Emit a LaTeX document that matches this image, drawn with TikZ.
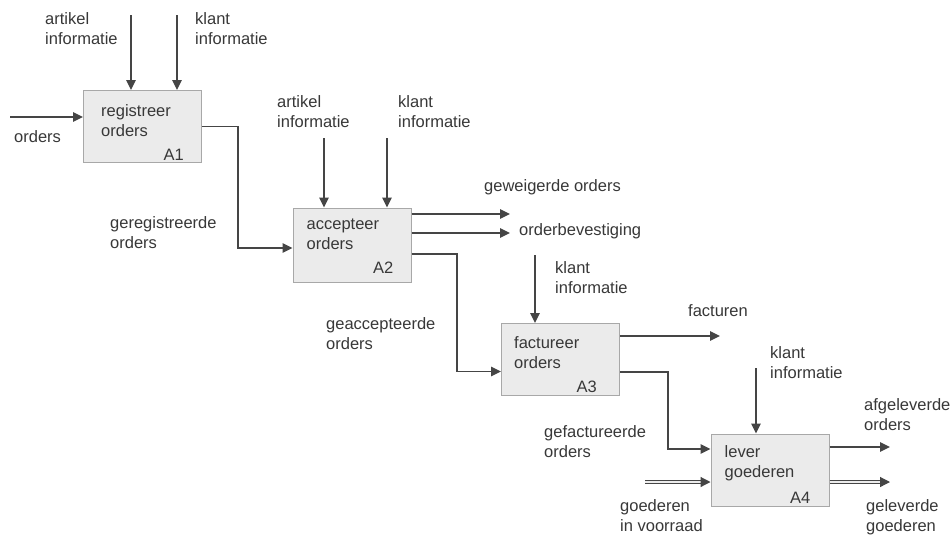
\documentclass[tikz,border=0pt]{standalone}
\usepackage{fontspec}
\setmainfont{Liberation Sans}
\usetikzlibrary{arrows.meta,calc}
\definecolor{ink}{HTML}{454545}
\definecolor{txt}{HTML}{383838}
\definecolor{boxfill}{HTML}{EBEBEB}
\definecolor{boxline}{HTML}{A8A8A8}
\begin{document}
\begin{tikzpicture}[x=1pt,y=-1pt,
  activity/.style={draw=boxline, line width=1pt, fill=boxfill,
    minimum width=118pt, minimum height=72pt, inner sep=0pt},
  lbl/.style={text=txt, font=\fontsize{16.5}{20}\selectfont, align=left,
    inner sep=0pt, anchor=west},
  title/.style={lbl, anchor=north west},
  code/.style={text=txt, font=\fontsize{16.5}{20}\selectfont, inner sep=0pt,
    anchor=base east},
  flow/.style={draw=ink, line width=1.4pt, -{Triangle[length=10pt,width=9.5pt]}},
  bulk/.style={draw=ink, line width=1.2pt, double=white!85!gray, double distance=1.8pt,
    -{Triangle[length=10pt,width=10pt]}}
]
\useasboundingbox[fill=white] (0,0) rectangle (951,542);

% activity boxes
\node[activity] (a1) at (142.5,126.5) {};
\node[activity, minimum height=74pt] (a2) at (352,245) {};
\node[activity] (a3) at (560.5,359.5) {};
\node[activity] (a4) at (770,470) {};

\node[title] (a1t) at ([shift={(18,14)}]a1.north west) {registreer\\orders};
\node[title] (a2t) at ([shift={(14,11)}]a2.north west) {accepteer\\orders};
\node[title] (a3t) at ([shift={(13,13)}]a3.north west) {factureer\\orders};
\node[title] (a4t) at ([shift={(14,12)}]a4.north west) {lever\\goederen};

\node[code] (a1c) at ([shift={(-18,-3)}]a1.south east) {A1};
\node[code] (a2c) at ([shift={(-18,-9)}]a2.south east) {A2};
\node[code] (a3c) at ([shift={(-23,-4)}]a3.south east) {A3};
\node[code] (a4c) at ([shift={(-19,-3)}]a4.south east) {A4};

% labels
\node[lbl] (l1) at (45,28.5) {artikel\\informatie};
\node[lbl] (l2) at (195,28.5) {klant\\informatie};
\node[lbl] (l3) at (14,137) {orders};
\node[lbl] (l4) at (110,233) {geregistreerde\\orders};
\node[lbl] (l5) at (277,112) {artikel\\informatie};
\node[lbl] (l6) at (398,112) {klant\\informatie};
\node[lbl] (l7) at (484,187) {geweigerde orders};
\node[lbl] (l8) at (519,231) {orderbevestiging};
\node[lbl] (l9) at (555,278) {klant\\informatie};
\node[lbl] (l10) at (326,333.5) {geaccepteerde\\orders};
\node[lbl] (l11) at (688,311) {facturen};
\node[lbl] (l12) at (544,442) {gefactureerde\\orders};
\node[lbl] (l13) at (770,363) {klant\\informatie};
\node[lbl] (l14) at (864,415) {afgeleverde\\orders};
\node[lbl] (l15) at (620,516) {goederen\\in voorraad};
\node[lbl] (l16) at (866,517) {geleverde\\goederen};

% free ends of the connectors
\coordinate (i1) at (10,117);
\coordinate (c1a) at (131,15);
\coordinate (c1b) at (177,15);
\coordinate (c2a) at (324,138);
\coordinate (c2b) at (387,138);
\coordinate (g1) at (510,214);
\coordinate (g2) at (510,233);
\coordinate (k2) at (457,254);
\coordinate (c3) at (535,255);
\coordinate (f1) at (720,336);
\coordinate (k4) at (668,372);
\coordinate (c4) at (756,368);
\coordinate (e1) at (890,447);
\coordinate (e2) at (890,482);
\coordinate (b1) at (645,482);

% A1
\draw[flow] (i1) -- (i1 -| a1.west);
\draw[flow] (c1a) -- (c1a |- a1.north);
\draw[flow] (c1b) -- (c1b |- a1.north);
\draw[flow] (a1.east) -- ++(36,0) |- ([yshift=-3pt]a2.west);

% A2
\draw[flow] (c2a) -- (c2a |- a2.north);
\draw[flow] (c2b) -- (c2b |- a2.north);
\draw[flow] (g1 -| a2.east) -- (g1);
\draw[flow] (g2 -| a2.east) -- (g2);
\draw[flow] (k2 -| a2.east) -- (k2) |- ([yshift=-12pt]a3.west);

% A3
\draw[flow] (c3) -- (c3 |- a3.north);
\draw[flow] (f1 -| a3.east) -- (f1);
\draw[flow] (k4 -| a3.east) -- (k4) |- ([yshift=21pt]a4.west);

% A4
\draw[flow] (c4) -- (c4 |- a4.north);
\draw[flow] (e1 -| a4.east) -- (e1);
\draw[bulk] (e2 -| a4.east) -- (e2);
\draw[bulk] (b1) -- (b1 -| a4.west);
\end{tikzpicture}
\end{document}
